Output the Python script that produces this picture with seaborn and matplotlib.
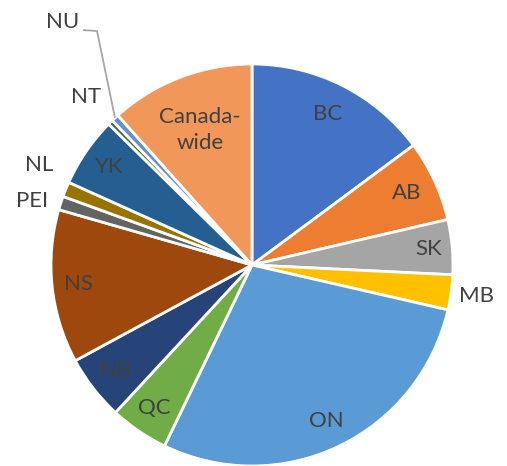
import numpy as np
import matplotlib
matplotlib.use("Agg")
import matplotlib.pyplot as plt
import seaborn as sns

sns.set_theme(style="white")
plt.rcParams['font.family'] = ['Lato', 'DejaVu Sans']

################################################
# Data (clockwise from the top)
################################################
regions = ['BC', 'AB', 'SK', 'MB', 'ON', 'QC', 'NB', 'NS',
           'PEI', 'NL', 'YK', 'NT', 'NU', 'Canada-\nwide']
shares = [14.8, 6.5, 4.4, 2.8, 28.5, 4.7, 5.2, 12.3,
          1.1, 1.2, 5.6, 0.4, 0.6, 11.6]
colors = ['#4472C4', '#ED7D31', '#A5A5A5', '#FFC000', '#5B9BD5', '#70AD47',
          '#264478', '#9E480E', '#636363', '#997300', '#255E91', '#43682B',
          '#698ED0', '#F1975A']

# label radius (fraction of pie radius); > 1 means outside
label_dist = [0.84, 0.85, 0.88, 1.13, 0.86, 0.86, 0.86, 0.87,
              1.14, 1.17, 0.86, 1.175, None, 0.72]
# nudge along the rim in degrees (clockwise positive) so small labels don't collide
label_shift = [0, 0, 0, 0, 0, 0, 0, 0,
               -1.8, 3.1, 0, 0, 0, 0]

TEXT_COLOR = '#404040'
LEADER_COLOR = '#A6A6A6'

################################################
# Figure: 1 data unit == pie radius == 201 px
################################################
W, H = 507, 466
R_PX = 201
CX, CY = 252, 265  # pie centre in pixels from top-left

fig = plt.figure(figsize=(W / 100, H / 100), dpi=100)
ax = fig.add_axes([0, 0, 1, 1])

wedges, _ = ax.pie(
    shares,
    colors=colors,
    startangle=90,
    counterclock=False,
    radius=1,
    wedgeprops=dict(edgecolor='white', linewidth=2),
)

ax.set_xlim(-CX / R_PX, (W - CX) / R_PX)
ax.set_ylim(-(H - CY) / R_PX, CY / R_PX)
ax.set_aspect('equal')
ax.axis('off')

for w, name, d, shift in zip(wedges, regions, label_dist, label_shift):
    mid = np.deg2rad((w.theta1 + w.theta2) / 2 - shift)
    if d is None:
        # NU: label up top with an elbow leader line to the rim
        x0, y0 = np.cos(mid), np.sin(mid)
        lx, ly = -0.94, 1.209
        ax.plot([x0, -0.771, -0.841], [y0, 1.164, 1.169],
                color=LEADER_COLOR, lw=1.3, solid_capstyle='butt')
        ax.text(lx, ly, name, ha='center', va='center',
                fontsize=16, color=TEXT_COLOR)
        continue
    ax.text(d * np.cos(mid), d * np.sin(mid), name,
            ha='center', va='center', fontsize=16, color=TEXT_COLOR,
            linespacing=1.35)

plt.savefig('out.png', dpi=100)
